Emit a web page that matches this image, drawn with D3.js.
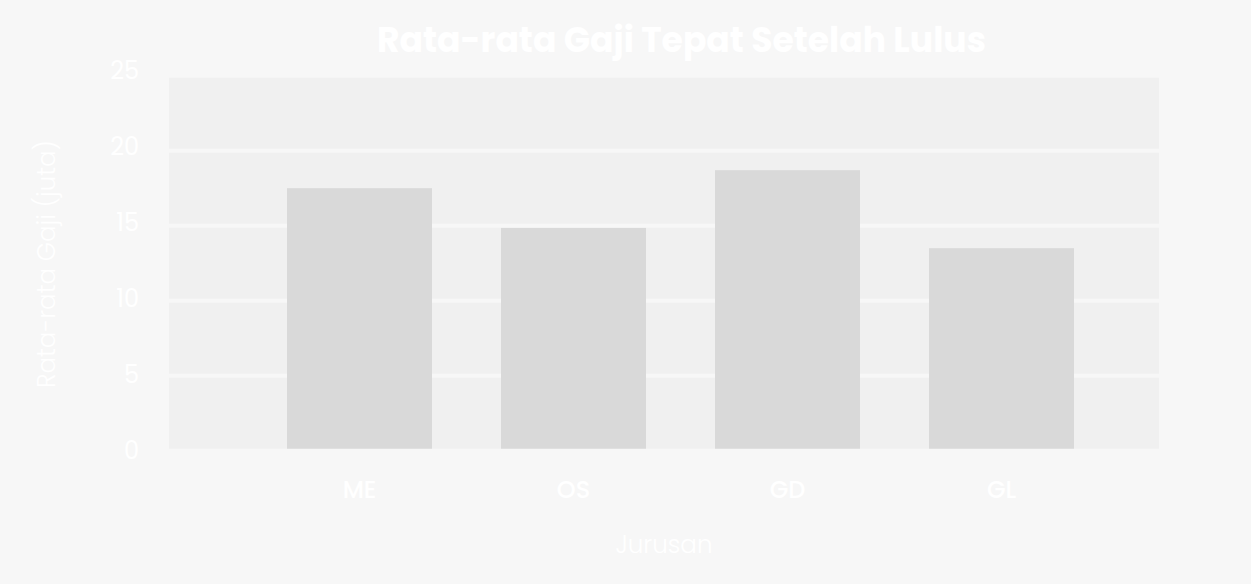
<!DOCTYPE html>
<html>
<head>
<meta charset="utf-8">
<script src="https://cdn.jsdelivr.net/npm/d3@7"></script>
<style>
  html, body { margin: 0; padding: 0; background: #f7f7f7; }
  svg { display: block; }
  text { font-family: Poppins, Inter, "Open Sans", sans-serif; fill: #ffffff; }
</style>
</head>
<body>
<svg id="chart" width="1251" height="584"></svg>
<script>
const categories = ["ME", "OS", "GD", "GL"];
const values = [17.5, 14.85, 18.7, 13.5];
const yTicks = [0, 5, 10, 15, 20, 25];
const titleText = "Rata-rata Gaji Tepat Setelah Lulus";
const xAxisLabel = "Jurusan";
const yAxisLabel = "Rata-rata Gaji (juta)";

const W = 1251, H = 584;
const svg = d3.select("#chart");
svg.append("rect").attr("width", W).attr("height", H).attr("fill", "#f7f7f7");

const plot = { left: 169, right: 1159 };
const y = d3.scaleLinear().domain([0, 25]).range([450.7, 75.7]);
const yLab = d3.scaleLinear().domain([0, 25]).range([451, 71]);
const x = d3.scaleBand().domain(categories).range([252.5, 1108.5])
  .paddingInner(0.3224).paddingOuter(0.1612);

// panel
svg.append("rect")
  .attr("x", plot.left).attr("y", y(25) + 2)
  .attr("width", plot.right - plot.left).attr("height", y(0) - y(25) - 4)
  .attr("fill", "#f0f0f0");

// gridlines
svg.append("g").selectAll("line")
  .data(yTicks.filter(t => t > 0 && t < 25))
  .join("line")
  .attr("x1", plot.left).attr("x2", plot.right)
  .attr("y1", d => y(d)).attr("y2", d => y(d))
  .attr("stroke", "#f7f7f7").attr("stroke-width", 4);

// bars
svg.append("g").selectAll("rect")
  .data(categories.map((c, i) => ({ c, v: values[i] })))
  .join("rect")
  .attr("x", d => x(d.c))
  .attr("width", x.bandwidth())
  .attr("y", d => y(d.v))
  .attr("height", d => y(0) - 2 - y(d.v))
  .attr("fill", "#d9d9d9");

// y axis
const yAxis = d3.axisLeft(yLab).tickValues(yTicks).tickSize(0).tickPadding(0);
const gy = svg.append("g").attr("transform", "translate(139,0)").call(yAxis);
gy.select(".domain").remove();
gy.selectAll("text")
  .attr("font-size", 24).attr("fill", "#ffffff")
  .style("font-family", "Poppins, Inter, 'Open Sans', sans-serif");

// x axis
const xAxis = d3.axisBottom(x).tickSize(0).tickPadding(0);
const gx = svg.append("g").attr("transform", "translate(0,481)").call(xAxis);
gx.select(".domain").remove();
gx.selectAll("text")
  .attr("font-size", 24).attr("font-weight", 500).attr("fill", "#ffffff")
  .style("font-family", "Poppins, Inter, 'Open Sans', sans-serif");

function fit(sel, target) {
  const len = sel.node().getComputedTextLength();
  const fs = parseFloat(sel.attr("font-size"));
  if (len > 0) sel.attr("font-size", fs * target / len);
}

// title
const t = svg.append("text")
  .attr("x", 681.5).attr("y", 52)
  .attr("text-anchor", "middle")
  .attr("font-size", 34).attr("font-weight", 700)
  .text(titleText);
fit(t, 609);

// x axis title
const xl = svg.append("text")
  .attr("x", 664).attr("y", 553)
  .attr("text-anchor", "middle")
  .attr("font-size", 24).attr("font-weight", 300)
  .text(xAxisLabel);
fit(xl, 97);

// y axis title
const yl = svg.append("text")
  .attr("transform", "translate(55,264) rotate(-90)")
  .attr("text-anchor", "middle")
  .attr("font-size", 24).attr("font-weight", 300)
  .text(yAxisLabel);
fit(yl, 248);
</script>
</body>
</html>
